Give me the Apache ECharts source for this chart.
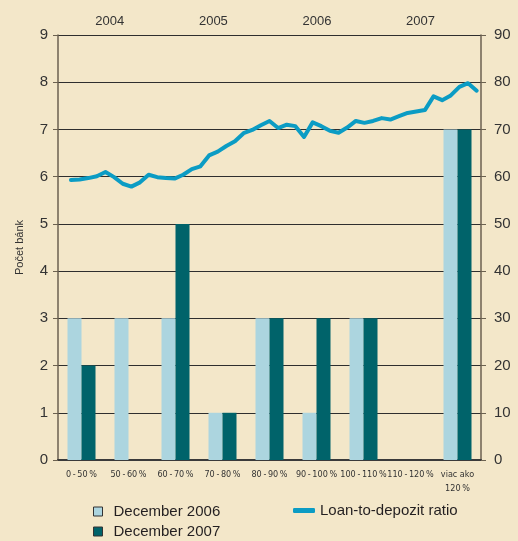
<!DOCTYPE html>
<html lang="sk">
  <head>
    <meta charset="UTF-8" />
    <title>Loan-to-depozit ratio</title>
    <script src="https://cdn.jsdelivr.net/npm/echarts@6/dist/echarts.min.js"></script>
    <style>
      html, body { margin: 0; padding: 0; background: #f3e7c9; }
      #chart { width: 518px; height: 541px; }
    </style>
  </head>
  <body>
    <div id="chart"></div>
    <script>
      // pásma ukazovateľa loan-to-depozit
      var bands = ['0 - 50 %', '50 - 60 %', '60 - 70 %', '70 - 80 %', '80 - 90 %', '90 - 100 %', '100 - 110 %', '110 - 120 %', 'viac ako\n120 %'];
      var dec2006 = [3, 3, 3, 1, 3, 1, 3, 0, 7];
      var dec2007 = [2, 0, 5, 1, 3, 3, 3, 0, 7];

      // mesačný vývoj, feb 2004 - jan 2008 (%)
      var ratio = [
        59.3, 59.4, 59.7, 60.1, 61.0, 59.9, 58.5, 57.9, 58.8, 60.4, 59.9,
        59.7, 59.6, 60.4, 61.6, 62.2, 64.5, 65.3, 66.5, 67.5, 69.2, 69.9, 70.9,
        71.8, 70.3, 71.0, 70.7, 68.4, 71.5, 70.7, 69.7, 69.3, 70.4, 71.8, 71.4,
        71.8, 72.4, 72.1, 72.8, 73.5, 73.8, 74.1, 77.0, 76.2, 77.2, 79.0, 79.8,
        78.2
      ];
      var years = ['2004', '2005', '2006', '2007'];

      var months = [];
      for (var y = 2004; y <= 2008; y++) {
        for (var m = 1; m <= 12; m++) {
          if (y === 2008 && m > 1) break;
          months.push(y + '-' + (m < 10 ? '0' + m : m));
        }
      }
      // prvý mesiac (jan 2004) bez hodnoty
      var ratioData = [null].concat(ratio);

      var textColor = '#333333';
      var font = "'Liberation Sans', Arial, sans-serif";
      var squareIcon = 'path://M0,0h10v10h-10z';
      var legendText = { color: '#231f20', fontSize: 15, fontFamily: font };

      var chart = echarts.init(document.getElementById('chart'));
      chart.setOption({
        backgroundColor: '#f3e7c9',
        animation: false,
        grid: { left: 58, right: 37, top: 35, bottom: 81 },
        legend: [
          {
            data: ['December 2006'],
            left: 88,
            top: 499,
            itemWidth: 21,
            itemHeight: 9,
            icon: squareIcon,
            itemStyle: { borderColor: '#333333', borderWidth: 1 },
            textStyle: legendText
          },
          {
            data: ['December 2007'],
            left: 88,
            top: 519,
            itemWidth: 21,
            itemHeight: 9,
            icon: squareIcon,
            itemStyle: { borderColor: '#333333', borderWidth: 1 },
            textStyle: legendText
          },
          {
            data: ['Loan-to-depozit ratio'],
            left: 288,
            top: 498,
            itemWidth: 22,
            itemHeight: 5,
            icon: 'roundRect',
            textStyle: legendText
          }
        ],
        xAxis: [
          {
            type: 'category',
            data: bands,
            position: 'bottom',
            axisLine: { lineStyle: { color: '#333333', width: 1 } },
            axisTick: { length: 5, lineStyle: { color: '#333333' } },
            axisLabel: {
              color: textColor,
              fontSize: 9,
              fontFamily: "'DejaVu Sans Condensed', 'Liberation Sans Narrow', sans-serif",
              margin: 8,
              lineHeight: 14,
              interval: 0,
              formatter: function (v) {
                // úzke medzery ako v predlohe
                return v.replace(/ - /g, '\u2009-\u2009').replace(/ %/g, '\u2009%');
              }
            }
          },
          {
            type: 'category',
            data: months,
            position: 'top',
            axisLine: { lineStyle: { color: '#3a3a3a', width: 2 } },
            axisTick: {
              length: 5,
              interval: function (i) { return i % 12 === 0; },
              lineStyle: { color: '#3a3a3a' }
            },
            axisLabel: { show: false },
            splitLine: { show: false }
          },
          {
            type: 'value',
            position: 'top',
            min: 0,
            max: months.length,
            interval: 6,
            axisLine: { show: false },
            axisTick: { show: false },
            splitLine: { show: false },
            axisLabel: {
              color: textColor,
              fontSize: 13,
              fontFamily: font,
              margin: 7,
              formatter: function (v) {
                return v % 12 === 6 ? years[(v - 6) / 12] : '';
              }
            }
          }
        ],
        yAxis: [
          {
            type: 'value',
            min: 0,
            max: 9,
            interval: 1,
            name: 'Počet bánk',
            nameLocation: 'middle',
            nameGap: 33,
            nameTextStyle: { color: textColor, fontSize: 11, fontFamily: font },
            axisLine: { show: true, lineStyle: { color: '#6b6150', width: 1.5 } },
            axisTick: { show: true, length: 5, lineStyle: { color: '#6b6150' } },
            axisLabel: { color: textColor, fontSize: 15, fontFamily: font, margin: 10 },
            splitLine: { lineStyle: { color: '#2e2e2e', width: 1 } }
          },
          {
            type: 'value',
            position: 'right',
            min: 0,
            max: 90,
            interval: 10,
            axisLine: { show: true, lineStyle: { color: '#6b6150', width: 1.5 } },
            axisTick: { show: true, length: 5, lineStyle: { color: '#6b6150' } },
            axisLabel: { color: textColor, fontSize: 15, fontFamily: font, margin: 13 },
            splitLine: { show: false }
          }
        ],
        series: [
          {
            name: 'December 2006',
            type: 'bar',
            xAxisIndex: 0,
            yAxisIndex: 0,
            barWidth: 14,
            barGap: '0%',
            itemStyle: { color: '#acd5df' },
            data: dec2006
          },
          {
            name: 'December 2007',
            type: 'bar',
            xAxisIndex: 0,
            yAxisIndex: 0,
            barWidth: 14,
            barGap: '0%',
            itemStyle: { color: '#00636a' },
            data: dec2007
          },
          {
            name: 'Loan-to-depozit ratio',
            type: 'line',
            xAxisIndex: 1,
            yAxisIndex: 1,
            symbol: 'none',
            z: 5,
            lineStyle: { color: '#0b9cc4', width: 4, cap: 'round', join: 'round' },
            itemStyle: { color: '#0b9cc4' },
            data: ratioData
          }
        ]
      });
    </script>
  </body>
</html>
